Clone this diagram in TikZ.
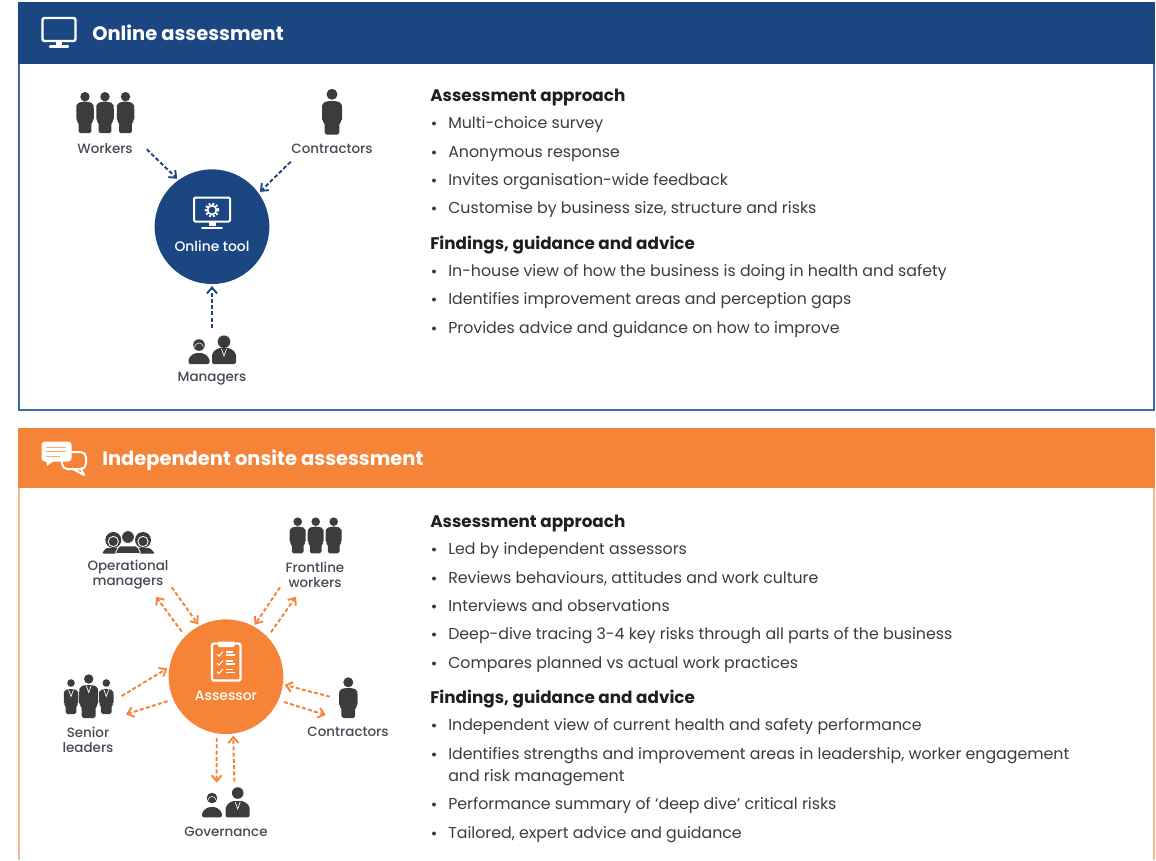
\documentclass[tikz,border=0pt]{standalone}
\usepackage{fontspec}
\usetikzlibrary{arrows.meta}
\setmainfont{Poppins}
\newfontfamily\pmed{Poppins Medium}
\definecolor{navy}{HTML}{1C4682}
\definecolor{orng}{HTML}{F58438}
\definecolor{navyline}{HTML}{3F6BA3}
\definecolor{orngline}{HTML}{F9B78A}
\definecolor{ink}{HTML}{3C3C3E}
\definecolor{labelink}{HTML}{454A55}
\tikzset{
  headtext/.style={text=white,font=\fontsize{14.6}{16}\selectfont\bfseries,anchor=base west,inner sep=0pt},
  sect/.style={text=black!88,font=\fontsize{12.6}{14}\selectfont\bfseries,anchor=base west,inner sep=0pt},
  item/.style={text=ink,font=\fontsize{11.85}{14}\selectfont,anchor=base west,inner sep=0pt},
  who/.style={text=labelink,font=\pmed\fontsize{10.1}{11.2}\selectfont,align=center,inner sep=0pt},
  hub/.style={circle,minimum size=86pt,inner sep=0pt,outer sep=1.5pt},
  huptext/.style={text=white,font=\pmed\fontsize{10.4}{11}\selectfont,inner sep=0pt},
  bluelink/.style={navy,line width=1.45pt,dash pattern=on 3pt off 1.7pt,-{Straight Barb[length=4.5pt,width=7.5pt,line width=1.4pt]}},
  orangelink/.style={orng,line width=1.45pt,dash pattern=on 3pt off 1.7pt,-{Straight Barb[length=4.5pt,width=7.5pt,line width=1.4pt]}},
}
\newcommand\pplfig[7]{% cx, head y, head r, body top, width, height, colour
  \fill[#7] (#1,#2) circle[radius=#3*0.75pt];
  \begin{scope}[shift={(#1,#4)},xscale=#5,yscale=#6]
    \fill[#7,rounded corners=1.4pt] (-.2,0) -- (.2,0) -- (.47,.06) -- (.5,.16) -- (.5,.6) -- (.37,.64) -- (.37,1) -- (-.37,1) -- (-.37,.64) -- (-.5,.6) -- (-.5,.16) -- (-.47,.06) -- cycle;
  \end{scope}}
\newcommand\bust[6]{% cx, head y, head r, top, bottom, halfwidth
  \fill[ink] (#1,#2) circle[radius=#3*0.75pt];
  \begin{scope}[shift={(#1,#5)}]
    \fill[ink,rounded corners=1.5pt] (-#6,0) -- (-#6,{#4-#5+5}) -- (-#6+6,{#4-#5}) -- (#6-6,{#4-#5}) -- (#6,{#4-#5+5}) -- (#6,0) -- cycle;
  \end{scope}}
\newcommand\tie[2]{\draw[white,line width=.5pt] (#1-2.5,#2) -- (#1,#2+7) -- (#1+2.5,#2);}
\newcommand\hair[3]{\draw[white,line width=.4pt] (#1,#2) ++(-#3+1.5,2.5) arc[start angle=180,end angle=10,radius={(#3-1.5)*0.75pt}];}
\newcommand\bul[1]{\fill[ink] (434,#1-5) circle[radius=1.5pt];}
\begin{document}
\begin{tikzpicture}[x=0.75pt,y=-0.75pt]
\useasboundingbox (0,0) rectangle (1156,860);
\fill[white] (0,0) rectangle (1156,860);

% Online panel
\draw[navyline,line width=1.5pt] (18.7,60) rectangle (1154.3,409.5);
\fill[navy] (18,2) rectangle (1155,64);
% header monitor
\draw[white,line width=1.8pt,rounded corners=1.5pt] (42.5,18) rectangle (75.5,41);
\fill[white] (56,41) rectangle (62,45);
\draw[white,line width=1.8pt,line cap=round] (50,46.6) -- (68,46.6);
\node[headtext] (h1) at (92,40) {Online assessment};

% Online hub
\node[hub,fill=navy] (tool) at (212,226.7) {};
\draw[white,line width=1.5pt,rounded corners=1pt] (194,197.5) rectangle (230,221.5);
\fill[white] (208.5,221.5) rectangle (215.5,226);
\draw[white,line width=1.4pt,line cap=round] (202,228) -- (222,228);
\draw[white,line width=1.2pt] (212,210) circle[radius=3.3pt];
\draw[white,line width=1.7pt,dash pattern=on 1.4pt off 1.37pt] (212,210) circle[radius=4.6pt];
\node[huptext] (tooltext) at (212,246.5) {Online tool};

% Online people
\pplfig{85}{96.7}{4.7}{101.7}{17.5}{31.5}{ink}
\pplfig{105}{96.7}{4.7}{101.7}{17.5}{31.5}{ink}
\pplfig{125.5}{96.7}{4.7}{101.7}{17.5}{31.5}{ink}
\pplfig{332}{94.3}{5.5}{101}{20}{33.5}{ink}
\bust{199}{345}{5.8}{353}{364}{10.5}
\hair{199}{345}{6}
\bust{224}{341.7}{6.3}{348}{364}{12}
\tie{224}{349}
\node[who] (workers) at (105,148.5) {Workers};
\node[who] (contractorsa) at (332,148.5) {Contractors};
\node[who] (managers) at (212,378.5) {Managers};
\coordinate (workersend) at (146.7,149.3);
\coordinate (contractend) at (290.7,161.7);
\coordinate (managersend) at (212,328);
\draw[bluelink] (workersend) -- (tool.126);
\draw[bluelink] (contractend) -- (tool.36.5);
\draw[bluelink] (managersend) -- (tool.270);

% Online text
\node[sect] (s1) at (430,101) {Assessment approach};
\bul{128.5}\node[item] (a1) at (448,128.5) {Multi-choice survey};
\bul{157.5}\node[item] (a2) at (448,157.5) {Anonymous response};
\bul{185.5}\node[item] (a3) at (448,185.5) {Invites organisation-wide feedback};
\bul{213.5}\node[item] (a4) at (448,213.5) {Customise by business size, structure and risks};
\node[sect] (s2) at (430,249) {Findings, guidance and advice};
\bul{276.5}\node[item] (a5) at (448,276.5) {In-house view of how the business is doing in health and safety};
\bul{304.5}\node[item] (a6) at (448,304.5) {Identifies improvement areas and perception gaps};
\bul{333.5}\node[item] (a7) at (448,333.5) {Provides advice and guidance on how to improve};

% Onsite panel
\draw[orngline,line width=1.5pt] (18.7,480) -- (18.7,860);
\draw[orngline,line width=1.5pt] (1154.3,480) -- (1154.3,860);
\fill[orng] (18,428) rectangle (1155,488);
% chat icon
\draw[white,line width=1.5pt,rounded corners=4pt] (62,452) rectangle (86,469);
\draw[white,line width=1.5pt,line join=round] (72,468.5) -- (84,475) -- (81,468.5);
\fill[white,rounded corners=2.5pt] (41.5,441.5) rectangle (71.5,461.5);
\fill[white] (46,460) -- (47,466) -- (55,460) -- cycle;
\draw[orng!70,line width=.7pt] (46,447) -- (66,447) (46,451.5) -- (66,451.5) (46,456) -- (60,456);
\node[headtext] (h2) at (102,465) {Independent onsite assessment};

% Onsite hub
\node[hub,fill=orng] (assessor) at (226,676.7) {};
\draw[white,line width=1.7pt,rounded corners=1.5pt,fill=orng] (212,643.5) rectangle (240.5,680.5);
\fill[white,rounded corners=.8pt] (218,641.5) rectangle (234.5,647);
\foreach \yy in {654,663,671.5}{
  \draw[white,line width=.8pt] (217,\yy) -- (219,\yy+2) -- (223,\yy-2.5);
  \draw[white,line width=.8pt] (226,\yy-2) -- (233,\yy-2) (226,\yy+1) -- (235,\yy+1);
}
\node[huptext] (assessortext) at (226,695.5) {Assessor};

% Onsite people: operational managers
\fill[ink] (113.3,540) circle[radius=6pt];
\fill[white] (113.3,541.5) circle[radius=4.2pt];
\fill[ink] (113.3,541.5) circle[radius=3.4pt];
\fill[ink] (143,540) circle[radius=6pt];
\fill[white] (143,541.5) circle[radius=4.2pt];
\fill[ink] (143,541.5) circle[radius=3.4pt];
\fill[ink,rounded corners=1pt] (102,553.5) -- (106,548) -- (120,548) -- (122,553.5) -- cycle;
\fill[ink,rounded corners=1pt] (134,553.5) -- (136,548) -- (150,548) -- (155,553.5) -- cycle;
\filldraw[fill=ink,draw=white,line width=.6pt] (128,537) circle[radius=4.8pt];
\filldraw[fill=ink,draw=white,line width=.6pt,rounded corners=1pt] (115,553.5) -- (119,546) -- (137,546) -- (141,553.5) -- cycle;
\pplfig{297.7}{521.7}{4.3}{526.7}{16}{26.7}{ink}
\pplfig{315.7}{521.7}{4.3}{526.7}{16}{26.7}{ink}
\pplfig{333.7}{521.7}{4.3}{526.7}{16}{26.7}{ink}
\pplfig{71}{683}{3.8}{689}{14.5}{25}{ink}
\pplfig{106.3}{683}{3.8}{689}{14.5}{25}{ink}
\pplfig{88.7}{679}{4.7}{685}{19}{33}{ink}
\tie{71}{689.5}\tie{88.7}{685.5}\tie{106.3}{689.5}
\pplfig{348.3}{682.3}{5}{688}{18.5}{30}{ink}
\bust{212}{798}{5.3}{807}{817.3}{10}
\hair{212}{798}{5.5}
\bust{237.7}{793}{5.8}{801}{817.3}{12}
\tie{237.7}{802}
\node[who] (opman) at (128,574.5) {Operational\\managers};
\node[who] (front) at (315,574.5) {Frontline\\workers};
\node[who] (senior) at (88,739.5) {Senior\\leaders};
\node[who] (contractorsb) at (348,731.5) {Contractors};
\node[who] (gov) at (226,832) {Governance};

\coordinate (opin) at (171.7,587.3);
\coordinate (opout) at (156,596.7);
\coordinate (frin) at (280,587.3);
\coordinate (frout) at (296,596.7);
\coordinate (sein) at (121.7,696);
\coordinate (seout) at (126,714.3);
\coordinate (coin) at (330,696.7);
\coordinate (coout) at (325.7,715);
\coordinate (goin) at (234.3,781.7);
\coordinate (goout) at (216.7,782.7);
\begin{scope}[orangelink]
\draw (opin) -- (assessor.118.6);
\draw[shorten <=3pt] (assessor.135.6) -- (opout);
\draw (frin) -- (assessor.61.2);
\draw[shorten <=3pt] (assessor.44.6) -- (frout);
\draw (sein) -- (assessor.172.3);
\draw[shorten <=3pt] (assessor.203.3) -- (seout);
\draw (coin) -- (assessor.352.3);
\draw[shorten <=3pt] (assessor.336.5) -- (coout);
\draw (goin) -- (assessor.277.6);
\draw[shorten <=2pt] (assessor.261.4) -- (goout);
\end{scope}

% Onsite text
\node[sect] (s3) at (430,527) {Assessment approach};
\bul{554.5}\node[item] (b1) at (448,554.5) {Led by independent assessors};
\bul{583.5}\node[item] (b2) at (448,583.5) {Reviews behaviours, attitudes and work culture};
\bul{611.5}\node[item] (b3) at (448,611.5) {Interviews and observations};
\bul{639.5}\node[item] (b4) at (448,639.5) {Deep-dive tracing 3-4 key risks through all parts of the business};
\bul{668.5}\node[item] (b5) at (448,668.5) {Compares planned vs actual work practices};
\node[sect] (s4) at (430,703) {Findings, guidance and advice};
\bul{730.5}\node[item] (b6) at (448,730.5) {Independent view of current health and safety performance};
\bul{759.5}\node[item] (b7) at (448,759.5) {Identifies strengths and improvement areas in leadership, worker engagement};
\node[item] (b7b) at (448,781.5) {and risk management};
\bul{809.5}\node[item] (b8) at (448,809.5) {Performance summary of ‘deep dive’ critical risks};
\bul{838.5}\node[item] (b9) at (448,838.5) {Tailored, expert advice and guidance};
\end{tikzpicture}
\end{document}
